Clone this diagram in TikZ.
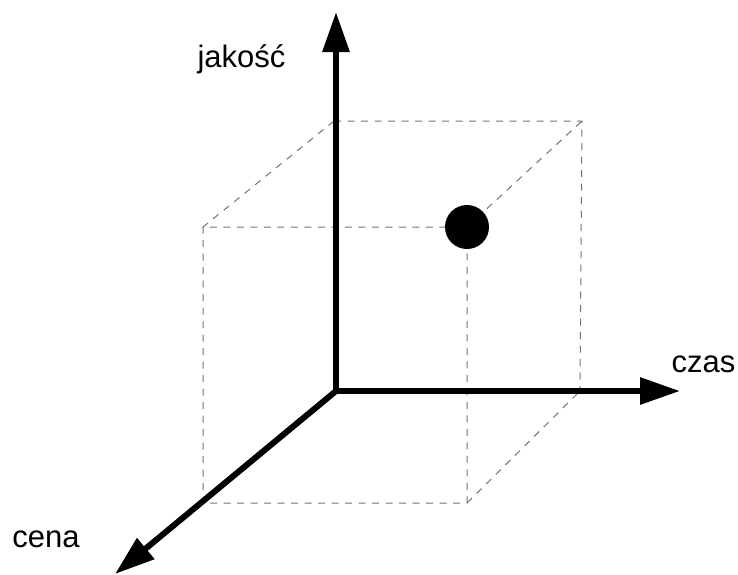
\documentclass[tikz,border=0pt]{standalone}
\usepackage{fontspec}
\setmainfont{Liberation Sans}
\usetikzlibrary{arrows.meta}

\begin{document}
\begin{tikzpicture}[x=1pt,y=-1pt,
    axis/.style={line width=6pt,-{Triangle[length=40pt,width=26pt]}},
    edge/.style={draw=black!55,line width=1pt,dash pattern=on 7pt off 6.5pt},
    lbl/.style={anchor=base,font=\fontsize{31}{36}\selectfont}]
  \useasboundingbox (0,0) rectangle (738,574);
  % back face
  \coordinate (O)  at (336,391);
  \coordinate (b2) at (580,391);
  \coordinate (b3) at (582,121);
  \coordinate (b4) at (334,121);
  % front face
  \coordinate (f1) at (203,503);
  \coordinate (f2) at (467,503);
  \coordinate (f3) at (467,227);
  \coordinate (f4) at (203,227);
  % axis ends
  \coordinate (jtip) at (336,12);
  \coordinate (ctip) at (680,391);
  \coordinate (ntip) at (115,574);
  % dashed box
  \draw[edge] (b4) -- (b3) -- (b2);
  \draw[edge] (b4) -- (f4) -- (f3) -- (f2) -- (f1) -- (f4);
  \draw[edge] (f2) -- (b2);
  \draw[edge] (f3) -- (b3);
  % axes
  \draw[axis] (O) -- (jtip);
  \draw[axis] (O) -- (ctip);
  \draw[axis] (O) -- (ntip);
  \fill (f3) circle (22);
  \node[lbl] (jakosc) at (241.5,67) {jakość};
  \node[lbl] (czas) at (703.5,372) {czas};
  \node[lbl] (cena) at (46,547) {cena};
\end{tikzpicture}
\end{document}
